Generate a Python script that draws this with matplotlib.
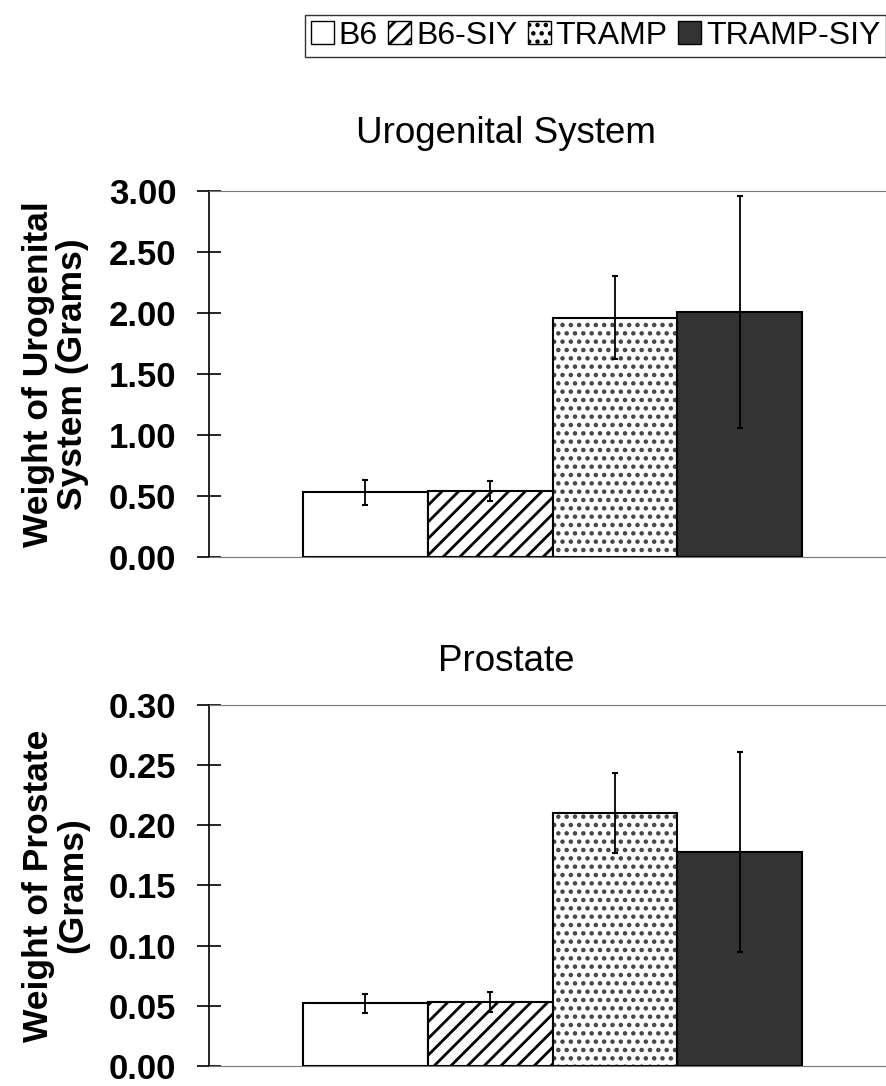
import matplotlib
matplotlib.use("Agg")
import matplotlib.pyplot as plt
from matplotlib.patches import Patch

plt.rcParams["font.family"] = ["Liberation Sans", "DejaVu Sans"]
plt.rcParams["hatch.linewidth"] = 2.0

# data
groups = ["B6", "B6-SIY", "TRAMP", "TRAMP-SIY"]
uro_mean = [0.53, 0.54, 1.96, 2.01]
uro_err = [0.10, 0.08, 0.34, 0.95]
pro_mean = [0.052, 0.053, 0.210, 0.178]
pro_err = [0.008, 0.008, 0.033, 0.083]
uro_ticks = [0.0, 0.5, 1.0, 1.5, 2.0, 2.5, 3.0]
pro_ticks = [0.0, 0.05, 0.10, 0.15, 0.20, 0.25, 0.30]

fills = ["white", "white", "white", "#333333"]
hatches = [None, "//", "..", None]
hatch_cols = ["black", "black", "#444444", "#333333"]

fig = plt.figure(figsize=(8.87, 10.86), dpi=100)
ax1 = fig.add_axes([0.2356, 0.4871, 0.762, 0.337])
ax2 = fig.add_axes([0.2356, 0.0185, 0.762, 0.3325])


def draw(ax, means, errs, ticks, title, title_y, ylabel):
    xs = [-1.5, -0.5, 0.5, 1.5]
    for i in range(len(groups)):
        ax.bar(xs[i], means[i], width=1.0, color=fills[i], hatch=hatches[i],
               edgecolor=hatch_cols[i], linewidth=0)
        ax.bar(xs[i], means[i], width=1.0, color="none", edgecolor="black", linewidth=1.5)
    ax.errorbar(xs, means, yerr=errs, fmt="none", ecolor="black", elinewidth=1.3,
                capsize=2.5, capthick=1.5)
    ax.set_xlim(-2.75, 2.66)
    ax.set_ylim(ticks[0], ticks[-1])
    ax.set_yticks(ticks)
    ax.set_yticklabels(["{:.2f}".format(t) for t in ticks], fontsize=25, fontweight="bold")
    ax.set_xticks([])
    ax.tick_params(axis="y", direction="inout", length=17, width=1.2, pad=15)
    ax.spines["right"].set_visible(False)
    ax.spines["top"].set_color("#777777")
    ax.spines["bottom"].set_color("#777777")
    ax.spines["left"].set_linewidth(1.2)
    ax.set_ylabel(ylabel, fontsize=25.5, fontweight="bold", labelpad=14, linespacing=1.05)
    ax.text(0.44, title_y, title, transform=ax.transAxes, ha="center", va="center",
            fontsize=26.5)


draw(ax1, uro_mean, uro_err, uro_ticks, "Urogenital System", 1.158,
     "Weight of Urogenital\nSystem (Grams)")
draw(ax2, pro_mean, pro_err, pro_ticks, "Prostate", 1.12,
     "Weight of Prostate\n(Grams)")

handles = [Patch(facecolor=fills[i], hatch=hatches[i], edgecolor="black", linewidth=1.0)
           for i in range(len(groups))]
leg = fig.legend(handles, groups, loc="upper right", bbox_to_anchor=(0.999, 0.986),
                 ncol=4, fontsize=23, frameon=True, fancybox=False, edgecolor="black",
                 handlelength=0.72, handleheight=0.72, handletextpad=0.15, columnspacing=0.33,
                 borderpad=0.18, borderaxespad=0.0)
leg.get_frame().set_linewidth(1.0)

fig.savefig("out.png", dpi=100, facecolor="white")
